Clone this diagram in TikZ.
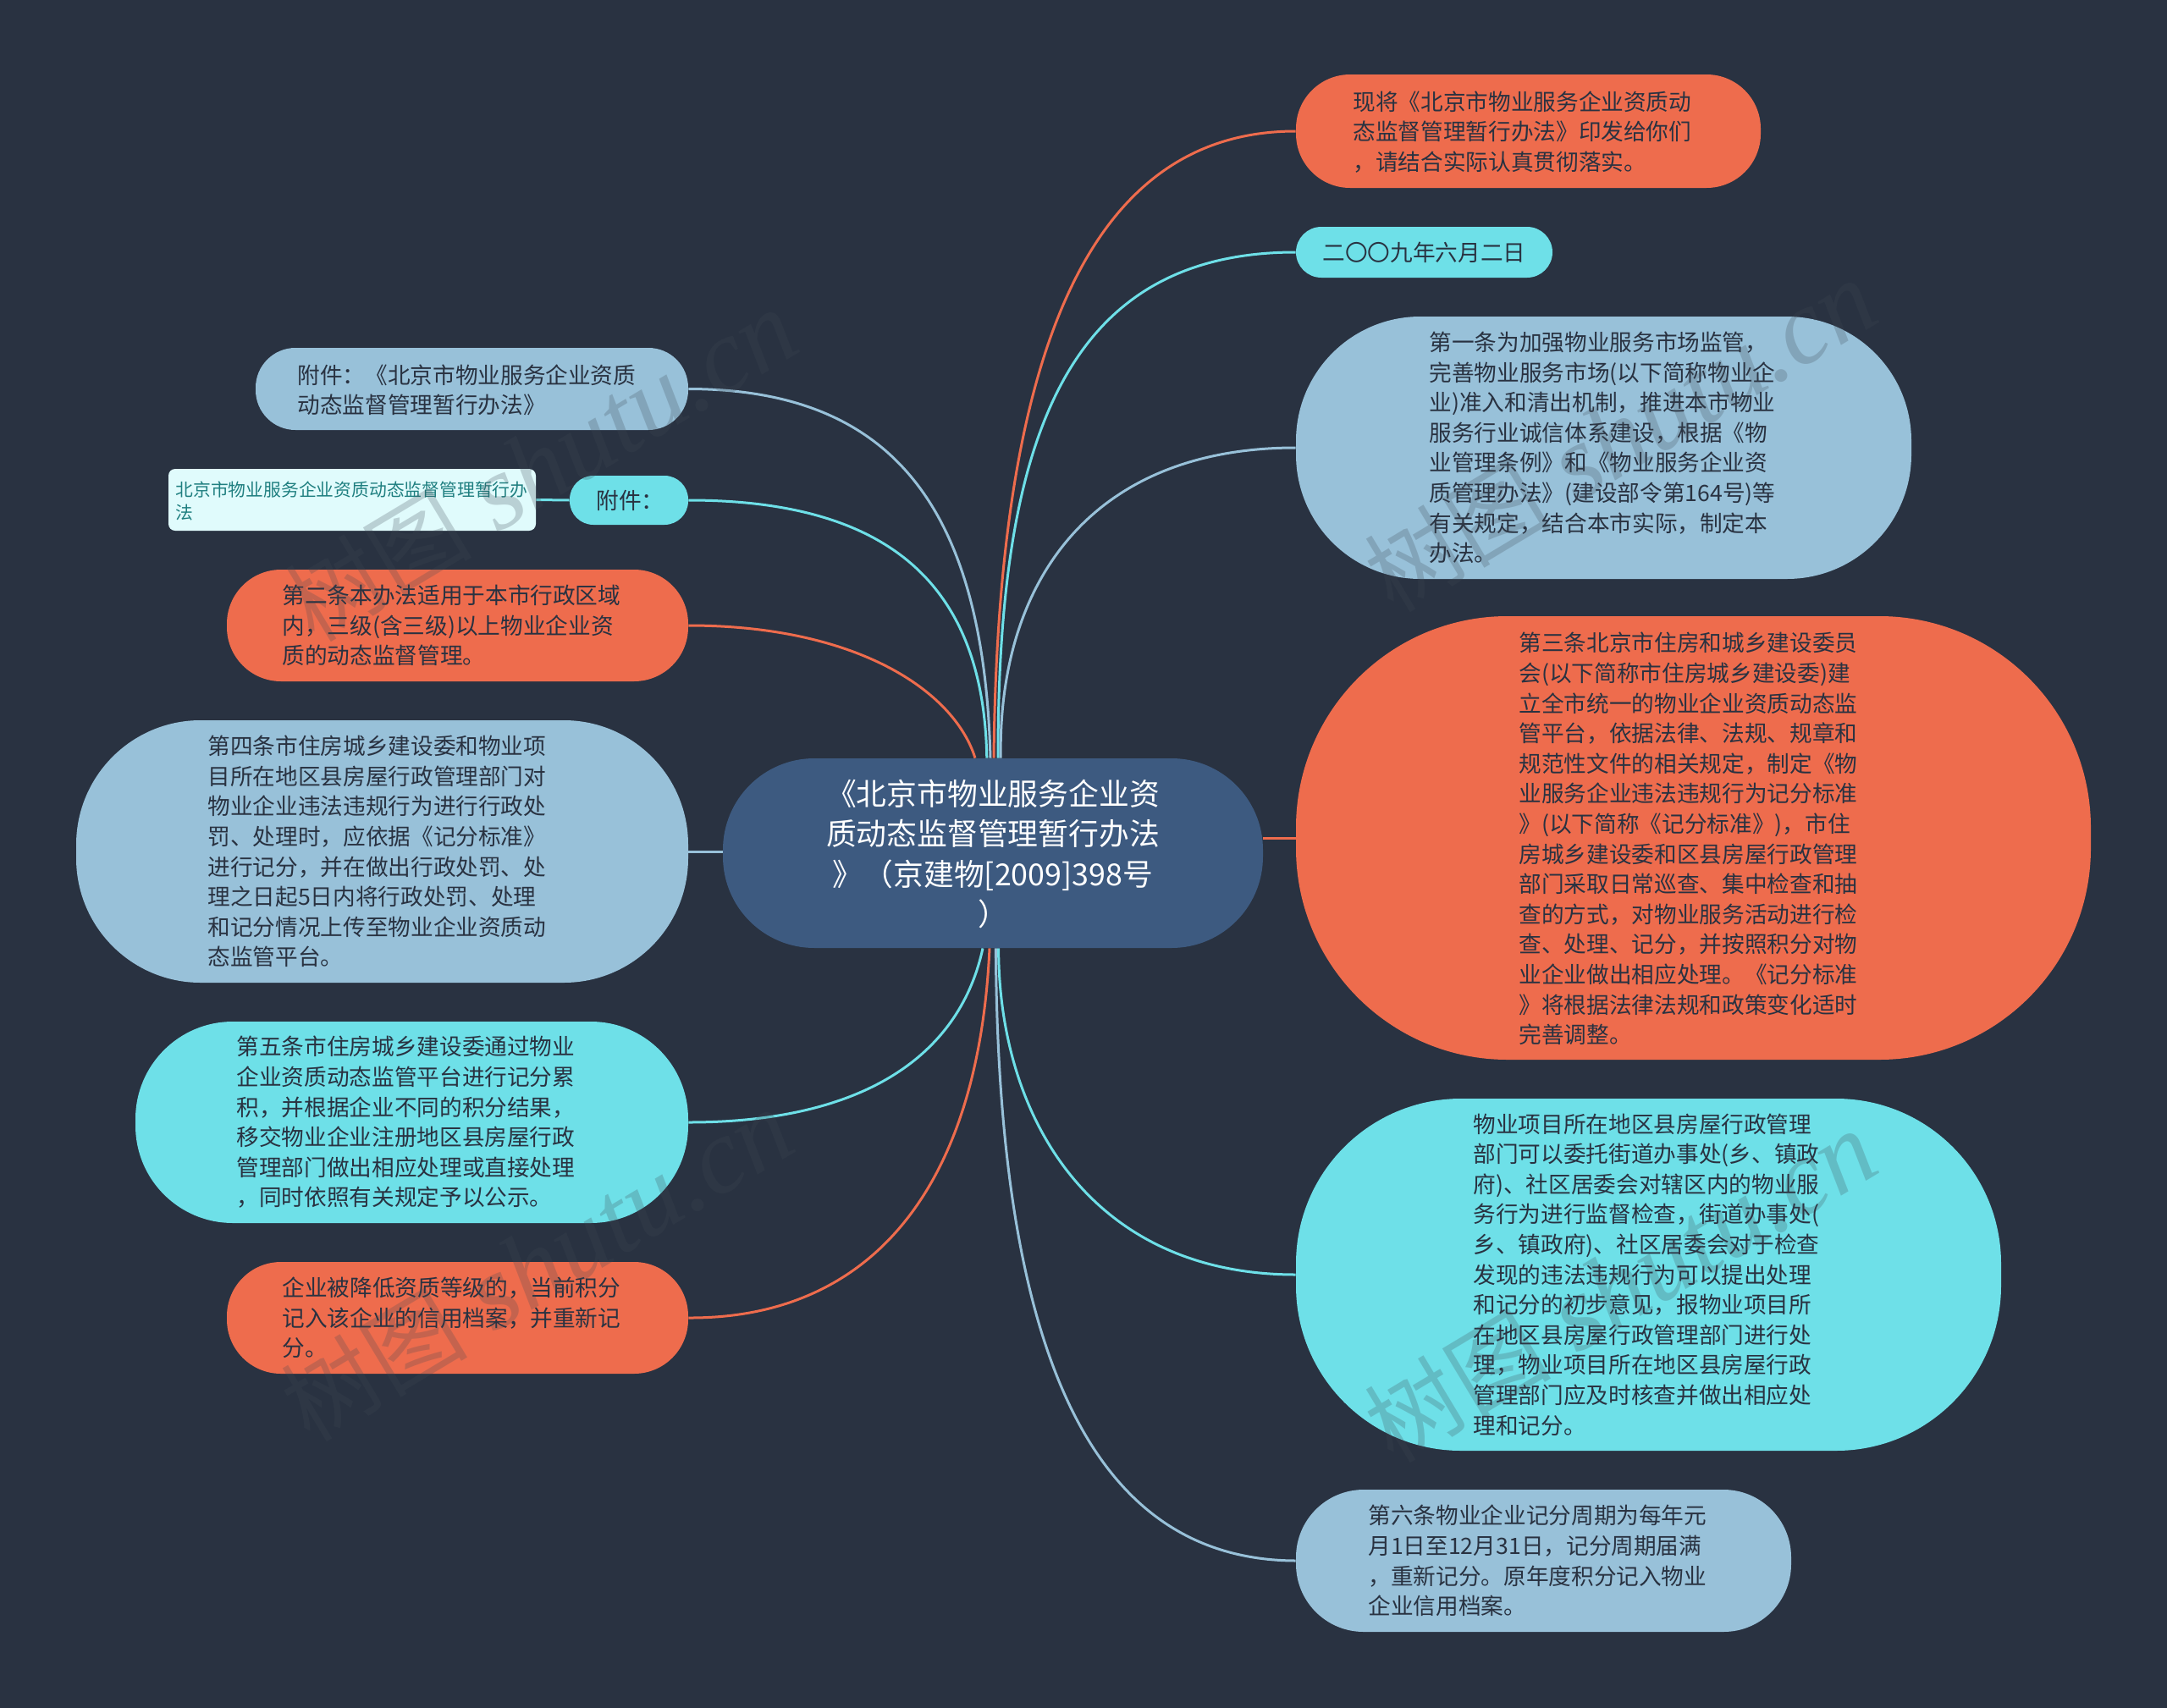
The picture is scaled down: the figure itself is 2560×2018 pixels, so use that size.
\documentclass[tikz,border=0pt]{standalone}
\usepackage{fontspec}
\setmainfont{Noto Sans CJK SC}
\newfontfamily\wmlatin{Liberation Serif}
\usetikzlibrary{backgrounds}
\definecolor{bgc}{HTML}{293241}
\definecolor{cenc}{HTML}{3D5A80}
\definecolor{redc}{HTML}{EE6C4D}
\definecolor{bluc}{HTML}{98C1D9}
\definecolor{cyac}{HTML}{6EE0E8}
\definecolor{palc}{HTML}{E0FBFC}
\definecolor{tlc}{HTML}{1F7F80}
\definecolor{wmc}{HTML}{404A55}
\tikzset{
 x=0.5pt,y=-0.5pt,
 pill/.style={rectangle,inner sep=0pt,anchor=center},
 txt/.style={anchor=west,inner sep=0pt,text=bgc,align=left,font=\fontsize{13.33pt}{17.8pt}\selectfont},
 link/.style={line width=1.5pt},
 wm/.style={opacity=0.24,text=wmc,rotate=31,anchor=west,inner sep=0pt},
}
% name, x0, y0, x1, y1, radius(px), colour
\newcommand{\pillat}[7]{%
 \node[pill,fill=#7,rounded corners=#6*0.5pt,minimum width={(#4-#2)*0.5pt},minimum height={(#5-#3)*0.5pt}] (#1) at ({(#2+#4)/2},{(#3+#5)/2}) {};
}
\newcommand{\wmtext}{{\fontsize{55pt}{55pt}\selectfont 树图}\hspace{16pt}{\wmlatin\itshape\fontsize{63pt}{63pt}\selectfont shutu.cn}}
\begin{document}
\begin{tikzpicture}
\useasboundingbox (0,0) rectangle (2560,2018);
% boxes
\pillat{n1}{1531}{88}{2080}{222}{64}{redc}
\pillat{n2}{1531}{268}{1834}{328}{30}{cyac}
\pillat{n3}{1531}{374}{2258}{684}{147}{bluc}
\pillat{n4}{1531}{728}{2470}{1252}{250}{redc}
\pillat{n5}{1531}{1298}{2364}{1714}{195}{cyac}
\pillat{n6}{1531}{1760}{2116}{1928}{80}{bluc}
\pillat{l1}{302}{411}{813}{508}{47}{bluc}
\pillat{l2}{673}{562}{813}{620}{28}{cyac}
\pillat{l2c}{199}{554}{633}{627}{8}{palc}
\pillat{l3}{268}{673}{813}{805}{64}{redc}
\pillat{l4}{90}{851}{813}{1161}{147}{bluc}
\pillat{l5}{160}{1207}{813}{1445}{115}{cyac}
\pillat{l6}{268}{1491}{813}{1623}{64}{redc}
\pillat{c}{854}{896}{1492}{1120}{108}{cenc}
% texts
\node[txt] (n1t) at (1598,156) {现将《北京市物业服务企业资质动\\态监督管理暂行办法》印发给你们\\，请结合实际认真贯彻落实。};
\node[txt] (n2t) at (1562,298) {二〇〇九年六月二日};
\node[txt] (n3t) at (1688,529) {第一条为加强物业服务市场监管，\\完善物业服务市场(以下简称物业企\\业)准入和清出机制，推进本市物业\\服务行业诚信体系建设，根据《物\\业管理条例》和《物业服务企业资\\质管理办法》(建设部令第164号)等\\有关规定，结合本市实际，制定本\\办法。};
\node[txt] (n4t) at (1794,991) {第三条北京市住房和城乡建设委员\\会(以下简称市住房城乡建设委)建\\立全市统一的物业企业资质动态监\\管平台，依据法律、法规、规章和\\规范性文件的相关规定，制定《物\\业服务企业违法违规行为记分标准\\》(以下简称《记分标准》)，市住\\房城乡建设委和区县房屋行政管理\\部门采取日常巡查、集中检查和抽\\查的方式，对物业服务活动进行检\\查、处理、记分，并按照积分对物\\业企业做出相应处理。《记分标准\\》将根据法律法规和政策变化适时\\完善调整。};
\node[txt] (n5t) at (1740,1506) {物业项目所在地区县房屋行政管理\\部门可以委托街道办事处(乡、镇政\\府)、社区居委会对辖区内的物业服\\务行为进行监督检查，街道办事处(\\乡、镇政府)、社区居委会对于检查\\发现的违法违规行为可以提出处理\\和记分的初步意见，报物业项目所\\在地区县房屋行政管理部门进行处\\理，物业项目所在地区县房屋行政\\管理部门应及时核查并做出相应处\\理和记分。};
\node[txt] (n6t) at (1616,1844) {第六条物业企业记分周期为每年元\\月1日至12月31日，记分周期届满\\，重新记分。原年度积分记入物业\\企业信用档案。};
\node[txt] (l1t) at (351,461) {附件：《北京市物业服务企业资质\\动态监督管理暂行办法》};
\node[txt] (l2t) at (704,591) {附件：};
\node[txt,text=tlc,font=\fontsize{10.4pt}{13.5pt}\selectfont] (l2ct) at (207,592) {北京市物业服务企业资质动态监督管理暂行办\\法};
\node[txt] (l3t) at (333,739) {第二条本办法适用于本市行政区域\\内，三级(含三级)以上物业企业资\\质的动态监督管理。};
\node[txt] (l4t) at (245,1006) {第四条市住房城乡建设委和物业项\\目所在地区县房屋行政管理部门对\\物业企业违法违规行为进行行政处\\罚、处理时，应依据《记分标准》\\进行记分，并在做出行政处罚、处\\理之日起5日内将行政处罚、处理\\和记分情况上传至物业企业资质动\\态监管平台。};
\node[txt] (l5t) at (279,1326) {第五条市住房城乡建设委通过物业\\企业资质动态监管平台进行记分累\\积，并根据企业不同的积分结果，\\移交物业企业注册地区县房屋行政\\管理部门做出相应处理或直接处理\\，同时依照有关规定予以公示。};
\node[txt] (l6t) at (333,1557) {企业被降低资质等级的，当前积分\\记入该企业的信用档案，并重新记\\分。};
\node[inner sep=0pt,anchor=center,text=white,align=center,font=\fontsize{17.9pt}{23.8pt}\selectfont] (ct) at ([yshift=-0.5pt]c.center) {《北京市物业服务企业资\\质动态监督管理暂行办法\\》（京建物[2009]398号\\）};
% background and connectors
\begin{scope}[on background layer]
\fill[bgc] (0,0) rectangle (2560,2018);
\draw[link,redc] ([xshift=0.5pt]c.north) .. controls (1179,408) and (1290,155) .. (n1.west);
\draw[link,cyac] ([xshift=3pt]c.north) .. controls (1179,522) and (1257,298) .. (n2.west);
\draw[link,bluc] ([xshift=4.6pt]c.north) .. controls (1179,686) and (1290,529) .. (n3.west);
\draw[link,redc] (n4.west) -- (n4.west -| c.east);
\draw[link,cyac] ([xshift=3.3pt]c.south) .. controls (1180,1322) and (1290,1506) .. (n5.west);
\draw[link,bluc] ([xshift=1.7pt]c.south) .. controls (1179,1600) and (1290,1843) .. (n6.west);
\draw[link,bluc] ([xshift=-1.5pt]c.north) .. controls (1162,588) and (1045,460) .. (l1.east);
\draw[link,cyac] ([xshift=-3.6pt]c.north) .. controls (1162,686) and (1045,591) .. (l2.east);
\draw[link,cyac] (l2.west) -- (l2c.east);
\draw[link,redc] ([xshift=-10.5pt]c.north) .. controls (1127,816) and (1012,739) .. (l3.east);
\draw[link,bluc] (l4.east) -- (l4.east -| c.west);
\draw[link,cyac] ([xshift=-6pt]c.south) .. controls (1135,1241) and (1029,1326) .. (l5.east);
\draw[link,redc] ([xshift=-2pt]c.south) .. controls (1156,1404) and (1029,1558) .. (l6.east);
\end{scope}
% watermarks
\node[wm] (w1) at (350,725) {\wmtext};
\node[wm] (w2) at (345,1670) {\wmtext};
\node[wm] (w3) at (1625,690) {\wmtext};
\node[wm] (w4) at (1625,1695) {\wmtext};
\end{tikzpicture}
\end{document}
